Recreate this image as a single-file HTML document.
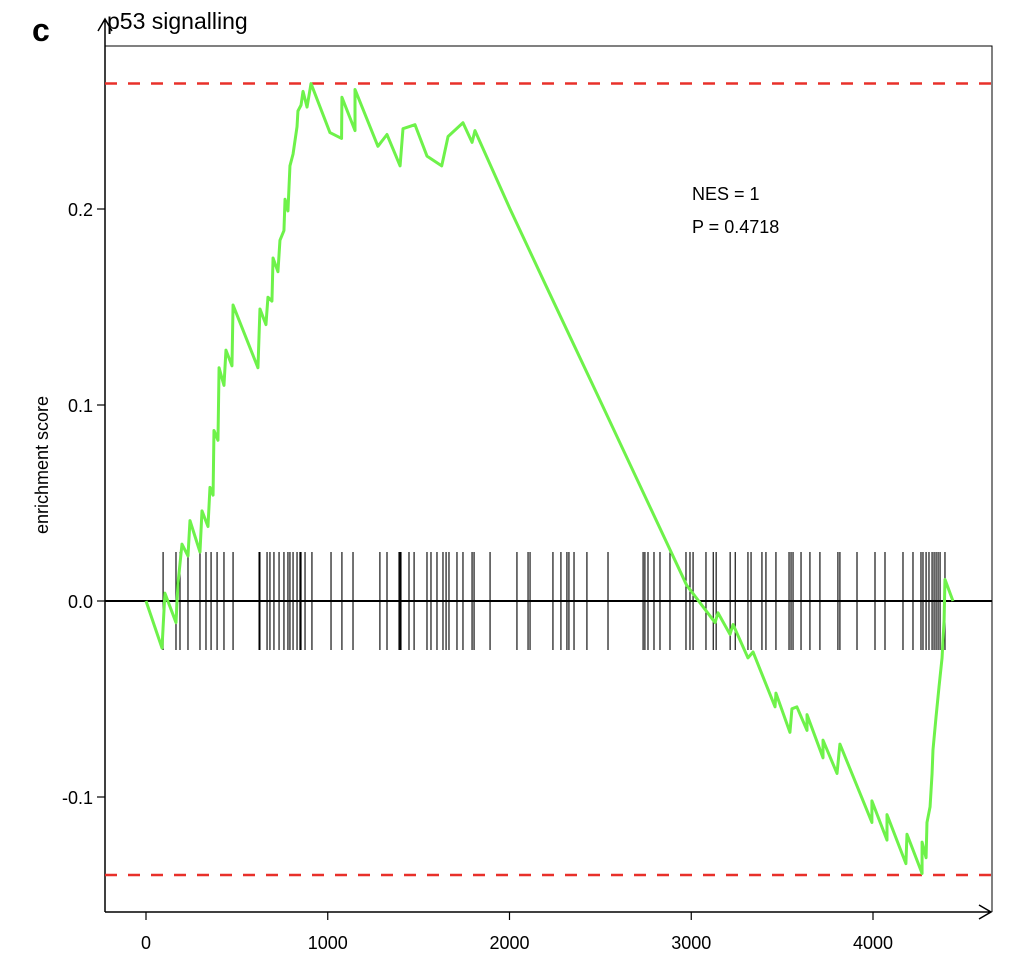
<!DOCTYPE html>
<html><head><meta charset="utf-8"><style>body{margin:0;background:#fff}svg text{font-family:"Liberation Sans",sans-serif}</style></head>
<body>
<svg id="chart" width="1012" height="974" viewBox="0 0 1012 974" xmlns="http://www.w3.org/2000/svg">
<text x="32" y="41" font-size="32" font-weight="bold">c</text>
<text x="107" y="29" font-size="23">p53 signalling</text>
<g id="plot"></g>
</svg>
<script>
const xTicks=[0,1000,2000,3000,4000];
const yTicks=[-0.1,0.0,0.1,0.2];
const yTickLabels=["-0.1","0.0","0.1","0.2"];
const esMax=0.264, esMin=-0.1398;
const curveRank=[0,88,104,165,176,198,231,242,297,308,341,352,369,374,396,402,429,440,473,479,616,627,660,671,693,699,726,737,759,765,781,792,809,820,831,836,853,864,875,886,908,1012,1076,1078,1150,1150,1276,1326,1398,1414,1480,1546,1627,1662,1744,1794,1810,2003,2200,2500,2975,3131,3147,3213,3230,3312,3340,3461,3466,3543,3554,3581,3637,3637,3725,3725,3802,3818,3994,3994,4077,4077,4181,4187,4270,4270,4292,4297,4314,4325,4330,4347,4363,4380,4391,4396,4440];
const curveES=[0,-0.024,0.004,-0.011,0.009,0.029,0.023,0.041,0.025,0.046,0.038,0.058,0.054,0.087,0.082,0.119,0.110,0.128,0.120,0.151,0.119,0.149,0.141,0.155,0.153,0.175,0.168,0.184,0.189,0.205,0.199,0.222,0.228,0.235,0.242,0.250,0.253,0.260,0.256,0.252,0.264,0.239,0.236,0.257,0.240,0.261,0.232,0.238,0.222,0.241,0.243,0.227,0.222,0.237,0.244,0.234,0.240,0.200,0.161,0.102,0.008,-0.011,-0.006,-0.017,-0.012,-0.029,-0.026,-0.054,-0.047,-0.067,-0.055,-0.054,-0.066,-0.058,-0.080,-0.071,-0.088,-0.073,-0.113,-0.102,-0.122,-0.109,-0.134,-0.119,-0.139,-0.123,-0.131,-0.113,-0.105,-0.088,-0.076,-0.059,-0.044,-0.029,-0.010,0.011,0.0];
const hitRanks=[94,165,187,231,297,330,358,391,429,479,622,627,666,682,704,732,759,781,792,809,831,847,853,875,913,1018,1078,1139,1287,1326,1392,1398,1403,1447,1475,1546,1568,1601,1634,1651,1667,1711,1744,1794,1805,1893,2041,2102,2113,2239,2283,2316,2327,2355,2426,2542,2735,2745,2762,2795,2828,2883,2971,2993,3010,3081,3121,3137,3214,3242,3312,3329,3389,3411,3466,3538,3549,3560,3604,3653,3708,3807,3818,3912,4011,4066,4165,4220,4264,4275,4292,4308,4325,4336,4347,4358,4369,4396];
const NS="http://www.w3.org/2000/svg";
const X=v=>146+v*0.18175, Y=v=>601-v*1960;
const g=document.getElementById('plot');
function el(t,a){const e=document.createElementNS(NS,t);for(const k in a)e.setAttribute(k,a[k]);g.appendChild(e);return e;}
let e;
e=el('path',{d:'M105,46H992V912',fill:'none',stroke:'#000','stroke-width':1});


e=el('path',{d:'M105,912V19M98,31L105,19L112,31M105,912H991M979,905L991,912L979,919',fill:'none',stroke:'#000','stroke-width':1.5});


xTicks.forEach(t=>{
 e=el('line',{x1:X(t),x2:X(t),y1:912,y2:920,stroke:'#000','stroke-width':1.2});
 
 
 e=el('text',{x:X(t),y:949,'font-size':18,'text-anchor':'middle'});e.textContent=t;
 
 
});
yTicks.forEach((t,i)=>{
 e=el('line',{x1:97,x2:105,y1:Y(t),y2:Y(t),stroke:'#000','stroke-width':1.2});
 
 
 e=el('text',{x:93,y:Y(t)+7,'font-size':18,'text-anchor':'end'});e.textContent=yTickLabels[i];
 
 
});
e=el('text',{x:48,y:465,'font-size':18,'text-anchor':'middle',transform:'rotate(-90 48 465)'});e.textContent='enrichment score';


[esMax,esMin].forEach(v=>{
 e=el('line',{x1:105,x2:992,y1:Y(v),y2:Y(v),stroke:'#e8302a','stroke-width':2.5,'stroke-dasharray':'12,11'});
 
 
});
hitRanks.forEach(r=>{
 e=el('line',{x1:X(r),x2:X(r),y1:552,y2:650,stroke:'#000','stroke-width':1.1});
 
 
});
e=el('line',{x1:105,x2:992,y1:601,y2:601,stroke:'#000','stroke-width':2});


e=el('polyline',{points:curveRank.map((r,i)=>X(r)+','+Y(curveES[i])).join(' '),fill:'none',stroke:'#6ef24a','stroke-width':3,'stroke-linejoin':'round'});


e=el('text',{x:692,y:200,'font-size':18});e.textContent='NES = 1';


e=el('text',{x:692,y:233,'font-size':18});e.textContent='P = 0.4718';


</script>
</body></html>
